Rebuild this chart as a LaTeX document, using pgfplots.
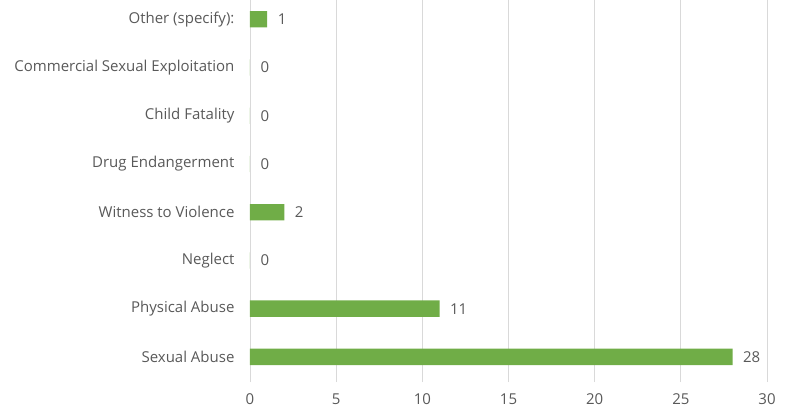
\documentclass[border=0pt]{standalone}
\usepackage{pgfplots}
\pgfplotsset{compat=1.18}
\usepackage{fontspec}
\setmainfont{Open Sans}
\definecolor{bargreen}{HTML}{70AD47}
\definecolor{txtgray}{HTML}{595959}
\definecolor{gridgray}{HTML}{D9D9D9}

\begin{document}
\begin{tikzpicture}[x=1pt,y=1pt]
\begin{axis}[
    name=ax,
    at={(0,0)}, anchor=south west,
    scale only axis,
    width=517pt, height=382pt,
    xbar,
    bar width=0.34,
    xmin=0, xmax=30,
    ymin=-0.52, ymax=7.4,
    xtick={0,5,...,30},
    ytick={0,...,7},
    yticklabels={Sexual Abuse, Physical Abuse, Neglect, Witness to Violence, Drug Endangerment, Child Fatality, Commercial Sexual Exploitation, Other (specify):},
    axis line style={draw=none},
    major tick length=0pt,
    xmajorgrids,
    grid style={gridgray, line width=0.8pt},
    tick label style={font=\fontsize{15}{17}\selectfont, text=txtgray},
    /pgf/number format/assume math mode=true,
    yticklabel style={xshift=-12pt},
    xticklabel style={yshift=-8pt},
    nodes near coords,
    every node near coord/.append style={font=\fontsize{15}{17}\selectfont, text=txtgray, anchor=west, xshift=7pt},
]
\addplot[fill=bargreen, draw=none] coordinates {
    (28,0) (11,1) (0,2) (2,3) (0,4) (0,5) (0,6) (1,7)
};
\end{axis}
\pgfresetboundingbox
\useasboundingbox (-250pt,-31pt) rectangle (541pt,382pt);
\end{tikzpicture}
\end{document}
